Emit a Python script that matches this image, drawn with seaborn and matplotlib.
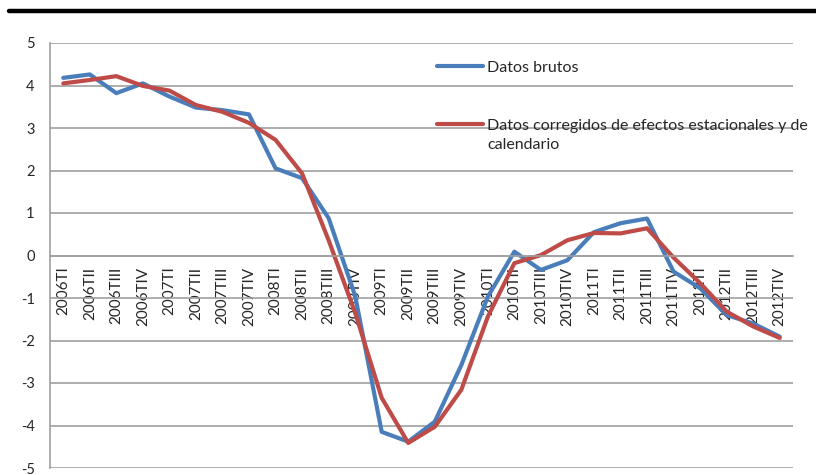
import matplotlib
matplotlib.use("Agg")
from matplotlib import pyplot as plt
from matplotlib.lines import Line2D
import seaborn as sns
import pandas as pd
import numpy as np

# %%
# Data
quarters = ['2006TI', '2006TII', '2006TIII', '2006TIV',
            '2007TI', '2007TII', '2007TIII', '2007TIV',
            '2008TI', '2008TII', '2008TIII', '2008TIV',
            '2009TI', '2009TII', '2009TIII', '2009TIV',
            '2010TI', '2010TII', '2010TIII', '2010TIV',
            '2011TI', '2011TII', '2011TIII', '2011TIV',
            '2012TI', '2012TII', '2012TIII', '2012TIV']

brutos = [4.18, 4.26, 3.82, 4.05, 3.74, 3.48, 3.42, 3.32,
          2.05, 1.82, 0.88, -0.95, -4.15, -4.38, -3.91, -2.58,
          -0.97, 0.09, -0.34, -0.11, 0.55, 0.76, 0.87, -0.38,
          -0.77, -1.40, -1.60, -1.91]

corregidos = [4.05, 4.13, 4.22, 3.99, 3.88, 3.54, 3.38, 3.12,
              2.72, 1.93, 0.36, -1.35, -3.35, -4.41, -4.03, -3.16,
              -1.44, -0.18, 0.01, 0.36, 0.53, 0.52, 0.64, -0.05,
              -0.65, -1.32, -1.67, -1.94]

label_brutos = 'Datos brutos'
label_corr = 'Datos corregidos de efectos estacionales y de calendario'

# %%
sns.set_style('white')
plt.rcParams['font.family'] = ['Lato', 'DejaVu Sans']
plt.rcParams['axes.unicode_minus'] = False

df = pd.DataFrame({'pos': np.arange(len(quarters)),
                   label_brutos: brutos,
                   label_corr: corregidos})
long = df.melt(id_vars='pos', var_name='serie', value_name='valor')

fig = plt.figure(figsize=(8.16, 4.75), dpi=100)
ax = fig.add_axes([50/816, 7/475, 743/816, 425/475])

sns.lineplot(data=long, x='pos', y='valor', hue='serie',
             palette=['#4A7EBB', '#BE4B48'], linewidth=3, ax=ax)

ax.set_xlim(-0.5, len(quarters) - 0.5)
ax.set_ylim(-5, 5)
ax.set_yticks(range(-5, 6))
ax.yaxis.grid(True, color='#A0A0A0', linewidth=1.2)
ax.set_axisbelow(True)
ax.set_xlabel('')
ax.set_ylabel('')

for s in ['top', 'right']:
    ax.spines[s].set_visible(False)
ax.spines['left'].set_color('#A0A0A0')
ax.spines['left'].set_linewidth(1.2)
ax.spines['bottom'].set_position(('data', 0))
ax.spines['bottom'].set_color('#A0A0A0')
ax.spines['bottom'].set_linewidth(1.2)

# category boundary ticks on the zero line, labels at the centres
ax.set_xticks(np.arange(-0.5, len(quarters), 1.0))
ax.set_xticklabels([])
ax.set_xticks(np.arange(len(quarters)), minor=True)
ax.set_xticklabels(quarters, minor=True, rotation=90, fontsize=11)
ax.tick_params(axis='x', which='major', length=5, width=1.2, color='#A0A0A0', direction='out')
ax.tick_params(axis='x', which='minor', length=0, pad=8)
ax.tick_params(axis='y', length=5, width=1.2, color='#A0A0A0', direction='out', labelsize=10.5, pad=6)

# legend: the long label wraps, Excel-style, with the key beside the first line
handles, labels = ax.get_legend_handles_labels()
first_line, rest = label_corr.rsplit(' ', 1)
leg = ax.legend(handles, [label_brutos, first_line], loc='upper left',
                bbox_to_anchor=(379/743, 0.977), frameon=False, borderpad=0,
                fontsize=11.5, handlelength=2.9, handletextpad=0.25, labelspacing=2.75)

fig.canvas.draw()
bb = leg.get_texts()[1].get_window_extent()
fig.text(bb.x0 / fig.dpi / 8.16, (bb.y0 - 19) / fig.dpi / 4.75, rest,
         fontsize=11.5, ha='left', va='bottom')

# thick rule across the top
fig.add_artist(Line2D([9/816, 1.0], [464/475, 464/475], color='black', linewidth=3.2))

fig.savefig('out.png', dpi=100)
